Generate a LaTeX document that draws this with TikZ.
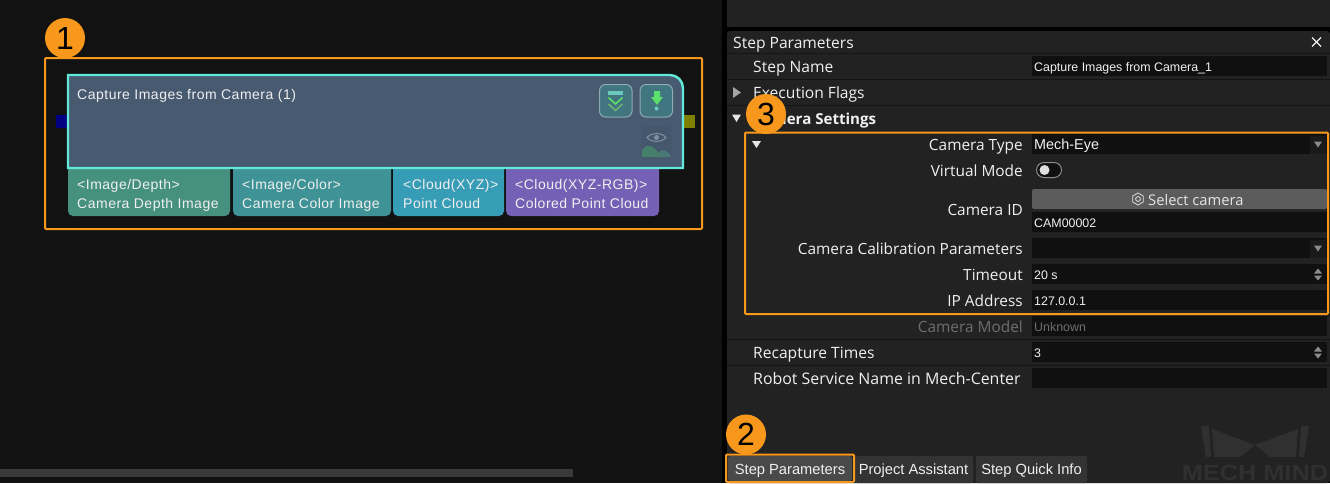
\documentclass[tikz,border=0pt]{standalone}
\usepackage{fontspec}
\setmainfont{Open Sans}
\newfontfamily\arialfont{Liberation Sans}
\newfontfamily\stepfont[LetterSpace=3.6]{Liberation Sans}
\definecolor{leftbg}{HTML}{121212}
\definecolor{panelbg}{HTML}{222222}
\definecolor{fieldbg}{HTML}{101010}
\definecolor{rowline}{HTML}{141414}
\definecolor{markorange}{HTML}{F7981D}
\definecolor{nodecyan}{HTML}{62E8D8}
\definecolor{nodefill}{HTML}{475A70}
\definecolor{tabgray}{HTML}{333333}
\definecolor{activetab}{HTML}{4A4A4A}
\definecolor{logogray}{HTML}{303030}
\definecolor{textwhite}{HTML}{F0F0F0}
\definecolor{icongreen}{HTML}{5CE06C}
\definecolor{iconteal}{HTML}{41757F}
\definecolor{depthgreen}{HTML}{45907F}
\definecolor{colorteal}{HTML}{3F9295}
\definecolor{xyzblue}{HTML}{379CB5}
\definecolor{rgbpurple}{HTML}{7460B5}
\definecolor{hillone}{HTML}{46806A}
\definecolor{hilltwo}{HTML}{487878}
\definecolor{scrollgray}{HTML}{3A3A3A}
\definecolor{btngray}{HTML}{5C5C5C}
\definecolor{portblue}{HTML}{000080}
\definecolor{portolive}{HTML}{808000}
\definecolor{arrowgray}{HTML}{8C8C8C}
\definecolor{arrowbox}{HTML}{1A1A1A}
\definecolor{eyebox}{HTML}{45576C}
\definecolor{eyegray}{HTML}{8390A0}
\definecolor{dimtext}{HTML}{6E6E6E}

\tikzset{
    uilabel/.style={inner sep=0pt,text=textwhite,font=\fontsize{15.6}{15}\selectfont},
    rowlabel/.style={uilabel,anchor=base east,font=\fontsize{15.4}{15}\selectfont},
    fieldtext/.style={inner sep=0pt,anchor=base west,text=textwhite,font=\arialfont\fontsize{12.4}{12}\selectfont},
    nodetext/.style={inner sep=0pt,anchor=base west,text=textwhite,font=\stepfont\fontsize{14}{14}\selectfont},
    tabtext/.style={uilabel,anchor=base,font=\arialfont\fontsize{14.7}{14}\selectfont},
    redbox/.style={draw=markorange,line width=2pt,rounded corners=1pt},
    badge/.style={circle,fill=markorange,minimum size=40pt,inner sep=0pt,text=black,font=\arialfont\fontsize{32}{32}\selectfont},
    outtab/.style={rounded corners=5pt},
    iconbtn/.style={fill=iconteal,draw=iconteal!60!white,line width=1pt,rounded corners=6pt},
}

% one input field of the parameter table: name, top y, text
\newcommand{\fieldbox}[3]{
    \fill[fieldbg] (1032,#2) rectangle (1327,#2+20);
    \node[fieldtext] (#1) at (1034,#2+15) {#3};
}

% label of a row, right aligned: name, baseline y, text
\newcommand{\rowtext}[3]{
    \node[rowlabel] (#1) at (1023,#2) {#3};
}

% small up and down arrows at the end of a field
\newcommand{\spinarrows}[1]{
    \fill[arrowgray] (1314,#1-1) -- (1322,#1-1) -- (1318,#1-6) -- cycle;
    \fill[arrowgray] (1314,#1+1) -- (1322,#1+1) -- (1318,#1+6) -- cycle;
}

% dropdown arrow at the end of a field
\newcommand{\droparrow}[1]{
    \fill[arrowbox] (1310,#1-9) rectangle (1326,#1+9);
    \fill[arrowgray] (1314,#1-3) -- (1322,#1-3) -- (1318,#1+3) -- cycle;
}

\begin{document}
\begin{tikzpicture}[x=1pt,y=-1pt]
\useasboundingbox (0,0) rectangle (1330,483);

\fill[leftbg] (0,0) rectangle (722,483);
\fill[black] (722,0) rectangle (1330,483);
\fill[panelbg] (727,0) rectangle (1330,27);
\fill[panelbg,rounded corners=3pt] (727,31) rectangle (1330,483);

% scroll bar
\fill[scrollgray] (0,469) rectangle (573,477);

% the step
\fill[portblue] (56,115) rectangle (68,128);
\fill[portolive] (683,115) rectangle (695,128);

\fill[depthgreen,outtab] (68,160) rectangle (230,216);
\fill[colorteal,outtab] (233,160) rectangle (391,216);
\fill[xyzblue,outtab] (393,160) rectangle (504,216);
\fill[rgbpurple,outtab] (506,160) rectangle (659,216);

\draw[fill=nodefill,draw=nodecyan,line width=2.4pt] (68,75) -- (670,75) arc[start angle=90,end angle=0,x radius=13,y radius=-13] -- (683,168) -- (68,168) -- cycle;

\node[nodetext] (stepname) at (77,99) {Capture Images from Camera (1)};

\node[nodetext] (depthtype) at (77,189.5) {<Image/Depth>};
\node[nodetext] (depthname) at (77,208) {Camera Depth Image};
\node[nodetext] (colortype) at (242,189.5) {<Image/Color>};
\node[nodetext] (colorname) at (242,208) {Camera Color Image};
\node[nodetext] (xyztype) at (403,189.5) {<Cloud(XYZ)>};
\node[nodetext] (xyzname) at (403,208) {Point Cloud};
\node[nodetext] (rgbtype) at (515,189.5) {<Cloud(XYZ-RGB)>};
\node[nodetext] (rgbname) at (515,208) {Colored Point Cloud};

% icons of the step
\draw[iconbtn] (599.5,84.5) rectangle (632,117);
\draw[iconbtn] (640,84.5) rectangle (672.5,117);
\fill[nodecyan!70!gray] (608,91) rectangle (623,94.5);
\draw[icongreen,line width=1.6pt] (608.5,97.5) -- (615.5,104) -- (622.5,97.5);
\draw[icongreen!50!gray,line width=1.6pt] (608.5,104) -- (615.5,110.5) -- (622.5,104);
\fill[icongreen] (654,91) -- (660,91) -- (660,97) -- (663,97) -- (657,105) -- (651,97) -- (654,97) -- cycle;
\fill[nodecyan!70!gray] (656.5,108.5) circle (2pt);
\fill[eyebox,rounded corners=2pt] (641,126) rectangle (671,158);
\draw[eyegray,line width=1pt] (647,137.5) .. controls (652,132) and (661,132) .. (666,137.5) .. controls (661,143) and (652,143) .. (647,137.5) -- cycle;
\fill[eyegray] (656.5,137.5) circle (2.5pt);
\fill[hilltwo] (657,157) .. controls (660,146) and (668,150) .. (671,157) -- cycle;
\fill[hillone] (642,157) -- (642,150) .. controls (648,142) and (654,146) .. (662,157) -- cycle;

% parameter table
\foreach \ypos in {53,79,105,339,365}{
    \draw[rowline,line width=1pt] (727,\ypos) -- (1330,\ypos);
}

\node[uilabel,anchor=base west] (panelhead) at (733,48) {Step Parameters};
\draw[textwhite,line width=1.2pt] (1312,37.5) -- (1321,46.5);
\draw[textwhite,line width=1.2pt] (1321,37.5) -- (1312,46.5);

\node[uilabel,anchor=base west] (stepnamerow) at (753,72) {Step Name};
\node[uilabel,anchor=base west] (flagsrow) at (753,98) {Execution Flags};
\node[uilabel,anchor=base west,font=\bfseries\fontsize{15.1}{15}\selectfont] (camerarow) at (753,124) {Camera Settings};
\fill[gray!70] (733,87) -- (741,92.5) -- (733,98) -- cycle;
\fill[textwhite!90!gray] (732,114.5) -- (741,114.5) -- (736.5,122) -- cycle;
\fill[textwhite!90!gray] (752,141) -- (761,141) -- (756.5,148) -- cycle;

\rowtext{typerow}{150}{Camera Type}
\rowtext{virtualrow}{176}{Virtual Mode}
\rowtext{idrow}{215}{Camera ID}
\rowtext{calibrow}{254}{Camera Calibration Parameters}
\rowtext{timeoutrow}{280}{Timeout}
\rowtext{iprow}{306}{IP Address}
\node[rowlabel,text=dimtext] (modelrow) at (1023,332) {Camera Model};
\node[uilabel,anchor=base west] (recapturerow) at (753,358) {Recapture Times};
\node[uilabel,anchor=base west,font=\fontsize{15.9}{15}\selectfont] (robotrow) at (753,384) {Robot Service Name in Mech-Center};

\fieldbox{stepfield}{56}{Capture Images from Camera\_1}
\fieldbox{typefield}{134}{\fontsize{14.4}{14}\selectfont Mech-Eye}
\fieldbox{camfield}{212}{CAM00002}
\fieldbox{califield}{238}{}
\fieldbox{timefield}{264}{20 s}
\fieldbox{ipfield}{290}{127.0.0.1}
\fieldbox{modelfield}{316}{\color{dimtext}Unknown}
\fieldbox{recapfield}{342}{3}
\fieldbox{robotfield}{368}{}

\droparrow{144.5}
\droparrow{248.5}
\spinarrows{274.5}
\spinarrows{352.5}

% toggle
\draw[arrowgray,line width=1pt,fill=fieldbg,rounded corners=7.5pt] (1036.5,162.5) rectangle (1061.5,177.5);
\fill[textwhite!85!gray] (1044.5,170) circle (5pt);

% select button
\fill[btngray,rounded corners=2pt] (1032,189) rectangle (1327,209);
\node[uilabel,anchor=base west,text=textwhite!90!gray,font=\fontsize{14.7}{14}\selectfont] (selectbtn) at (1148,205) {Select camera};
\draw[textwhite!85!gray,line width=0.8pt] (1138,193) -- (1143.2,196) -- (1143.2,202) -- (1138,205) -- (1132.8,202) -- (1132.8,196) -- cycle;
\draw[textwhite!85!gray,line width=0.8pt] (1138,199) circle (2.4pt);

% bottom tabs
\fill[activetab,rounded corners=2pt] (728,456) rectangle (852,481);
\fill[tabgray,rounded corners=2pt] (855,456) rectangle (973,483);
\fill[tabgray,rounded corners=2pt] (976,456) rectangle (1087,483);
\node[tabtext] (tabone) at (790,474) {Step Parameters};
\node[tabtext] (tabtwo) at (913.5,474) {Project Assistant};
\node[tabtext] (tabthree) at (1031.5,474) {Step Quick Info};

% watermark
\fill[logogray] (1201,426) -- (1209,426) -- (1211,457) -- (1206,457) -- cycle;
\fill[logogray] (1309,426) -- (1301,426) -- (1299,457) -- (1304,457) -- cycle;
\fill[logogray] (1212,429) -- (1255,445) -- (1240,457) -- (1214,457) -- cycle;
\fill[logogray] (1298,429) -- (1255,445) -- (1270,457) -- (1296,457) -- cycle;
\node[inner sep=0pt,anchor=base,text=logogray,font=\arialfont\bfseries\fontsize{22}{22}\selectfont] (logotext) at (1255,480) {\scalebox{1.15}[1]{MECH MIND}};

% orange marks
\draw[redbox] (45,58) rectangle (702,229);
\draw[redbox] (745,132.5) rectangle (1328,314);
\draw[redbox] (726,454.5) rectangle (854,482);

\node[badge] (markone) at (65,38) {1};
\node[badge] (markthree) at (766,114) {3};
\node[badge] (marktwo) at (746,434.5) {2};

\end{tikzpicture}
\end{document}
